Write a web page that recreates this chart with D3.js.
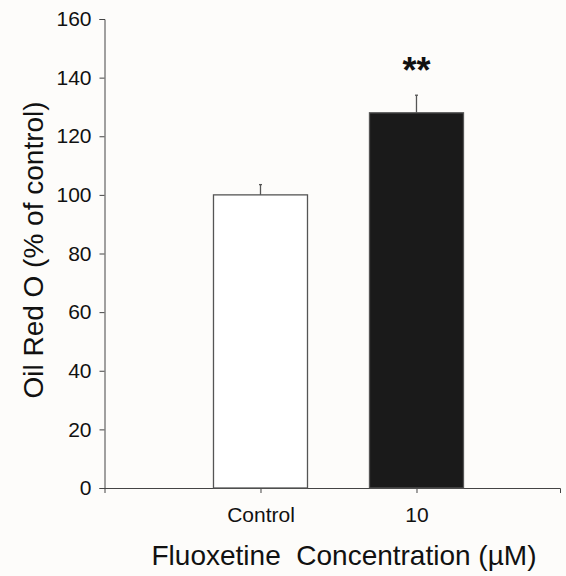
<!DOCTYPE html>
<html><head><meta charset="utf-8">
<script src="https://cdn.jsdelivr.net/npm/d3@7"></script>
<style>html,body{margin:0;padding:0;background:#fdfcfa;}svg{display:block;}</style>
</head><body><div id="chart"></div>
<script>
const barCategories = ["Control", "10"];
const values = [100, 128];
const errors = [3.5, 6];
const fills = ["#ffffff", "#1a1a1a"];
const significance = ["", "**"];
const yTicks = [0, 20, 40, 60, 80, 100, 120, 140, 160];
const yLabel = "Oil Red O (% of control)";
const xLabel = "Fluoxetine\u00a0 Concentration (\u00b5M)";

const W = 566, H = 576;
const m = {left: 104.5, right: 6, top: 19, bottom: 88};
const svg = d3.select("#chart").append("svg").attr("width", W).attr("height", H)
  .style("font-family", "'Liberation Sans', Arial, sans-serif");

const xi = d3.scaleLinear().domain([-1, 1.92]).range([m.left, W - m.right]);
const y = d3.scaleLinear().domain([0, 160]).range([H - m.bottom, m.top]);
const bw = 94;
const axisColor = "#444";

const yAxis = svg.append("g").attr("transform", `translate(${m.left},0)`)
  .call(d3.axisLeft(y).tickValues(yTicks).tickSize(5).tickPadding(8));
yAxis.selectAll("text").style("font-size", "21px").attr("fill", "#111");
yAxis.selectAll("line,path").attr("stroke", axisColor);

const xAxis = svg.append("g").attr("transform", `translate(0,${y(0)})`)
  .call(d3.axisBottom(xi).tickValues([0, 1]).tickFormat((d, i) => barCategories[i]).tickSizeOuter(0).tickSize(5).tickPadding(14));
xAxis.selectAll("text").style("font-size", "21px").attr("fill", "#111");
xAxis.selectAll("line,path").attr("stroke", axisColor);

const idx = barCategories.map((c, i) => i);
svg.selectAll("rect.bar").data(idx).enter().append("rect")
  .attr("x", i => xi(i) - bw / 2).attr("width", bw)
  .attr("y", i => y(values[i])).attr("height", i => y(0) - y(values[i]))
  .attr("fill", i => fills[i]).attr("stroke", "#555").attr("stroke-width", 1.3);

svg.selectAll("line.err").data(idx).enter().append("line")
  .attr("x1", i => xi(i)).attr("x2", i => xi(i))
  .attr("y1", i => y(values[i])).attr("y2", i => y(values[i] + errors[i]))
  .attr("stroke", "#555").attr("stroke-width", 1.3);
svg.selectAll("line.cap").data(idx).enter().append("line")
  .attr("x1", i => xi(i) - 1.5).attr("x2", i => xi(i) + 1.5)
  .attr("y1", i => y(values[i] + errors[i])).attr("y2", i => y(values[i] + errors[i]))
  .attr("stroke", "#555").attr("stroke-width", 1.3);

svg.selectAll("text.sig").data(idx).enter().append("text")
  .attr("x", i => xi(i)).attr("y", i => y(values[i] + errors[i]) - 12)
  .attr("text-anchor", "middle").style("font-size", "36px").style("font-weight", "bold")
  .attr("fill", "#111").text(i => significance[i]);

svg.append("text").attr("x", (148 + 540) / 2).attr("y", 565).attr("text-anchor", "middle")
  .style("font-size", "28px").attr("fill", "#111").text(xLabel);
svg.append("text").attr("transform", `translate(43,250) rotate(-90)`).attr("text-anchor", "middle")
  .style("font-size", "28px").attr("fill", "#111").text(yLabel);
</script></body></html>
